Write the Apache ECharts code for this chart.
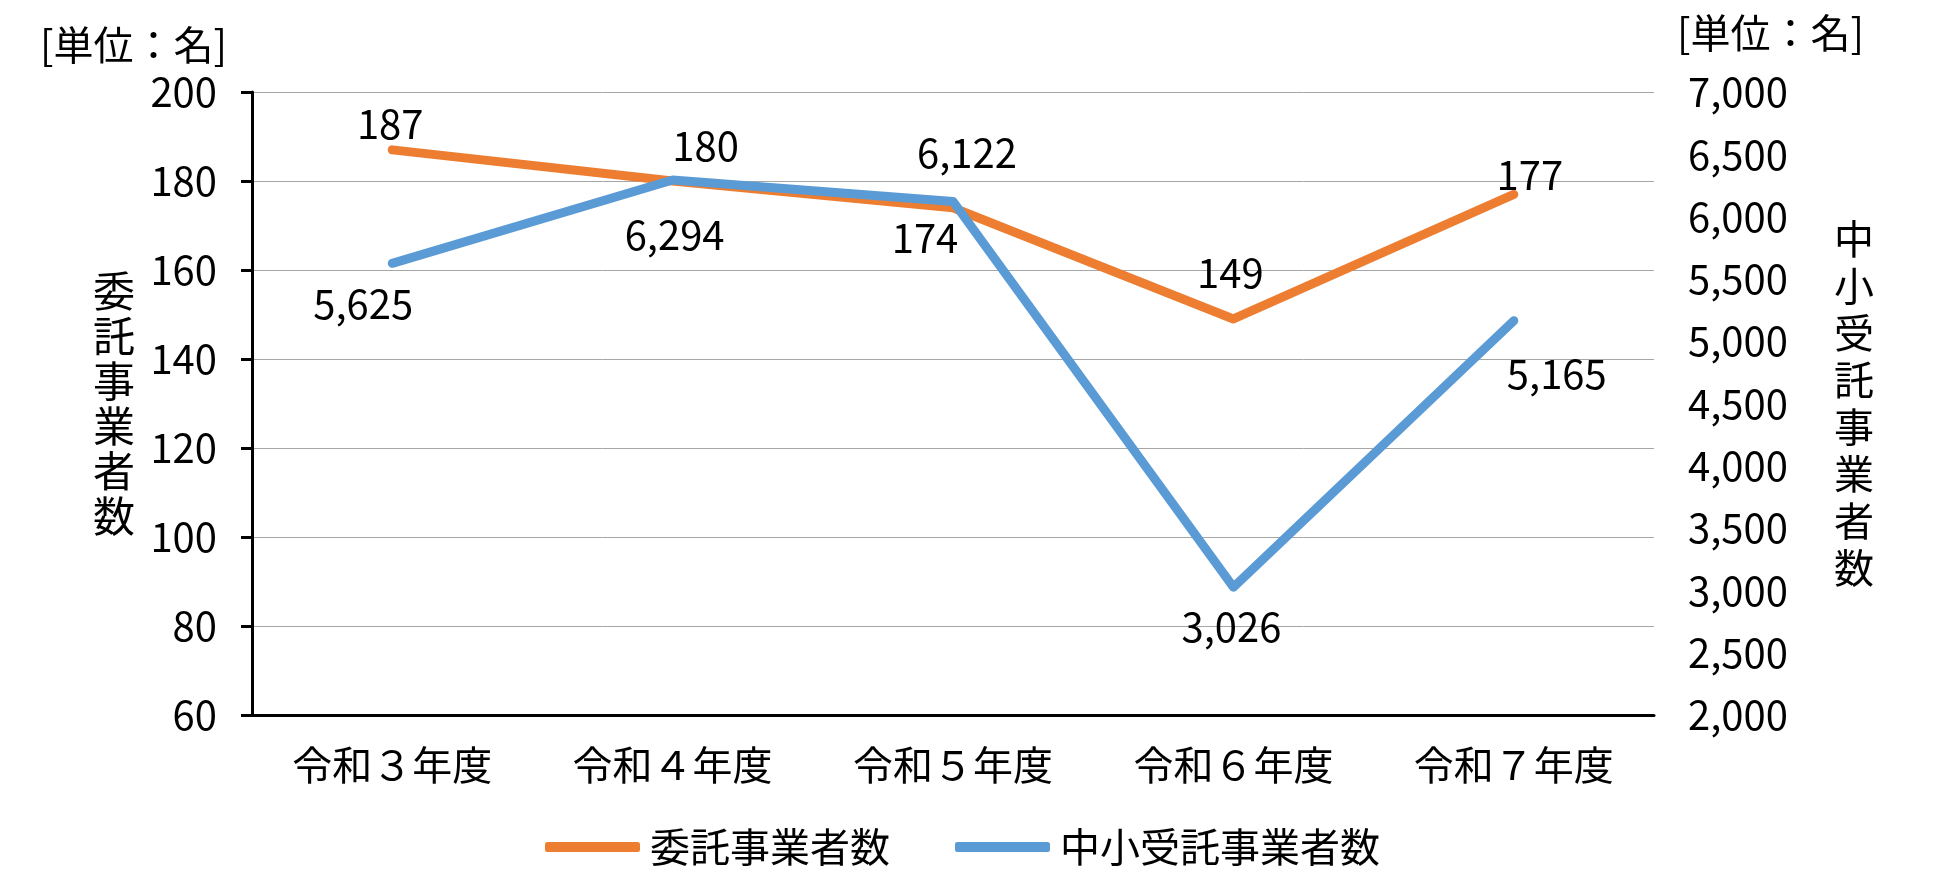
<!DOCTYPE html>
<html>
<head>
<meta charset="utf-8">
<script src="https://cdn.jsdelivr.net/npm/echarts@6/dist/echarts.min.js"></script>
<style>
html,body{margin:0;padding:0;background:#fff;}
#chart{width:1950px;height:883px;}
</style>
</head>
<body>
<div id="chart"></div>
<script>
// data
var years=["令和３年度","令和４年度","令和５年度","令和６年度","令和７年度"];
var itakuName="委託事業者数";
var chushoName="中小受託事業者数";
var itaku=[187,180,174,149,177];
var chusho=[5625,6294,6122,3026,5165];
var unitText="[単位：名]";

// label offsets from each point (px)
var itakuOffset=[[-2,-26],[33,-35],[-28,30],[-3,-46],[16,-20]];
var chushoOffset=[[-29,40],[2,55],[14,-49],[-2,40],[43,53]];

var numFont="'Liberation Sans Narrow','Noto Sans CJK JP',sans-serif";
var cjkFont="'Noto Sans CJK JP',sans-serif";
var orange="#ED7D31";
var blue="#5B9BD5";

function fmt(v){
	return String(v).replace(/\B(?=(\d{3})+(?!\d))/g,",");
}
function vertical(s){
	return s.split("").join("\n");
}
function buildData(values,offsets){
	var arr=[];
	for(var i=0;i<values.length;i++){
		arr.push({
			value:values[i],
			label:{offset:offsets[i]}
		});
	}
	return arr;
}

var chart=echarts.init(document.getElementById("chart"));
var option={
	animation:false,
	title:[{
		text:unitText,left:35,top:20,
		textStyle:{fontFamily:cjkFont,fontSize:40,fontWeight:"normal",color:"#000"}
	},{
		text:unitText,left:1672,top:8,
		textStyle:{fontFamily:cjkFont,fontSize:40,fontWeight:"normal",color:"#000"}
	}],
	legend:{
		left:540,
		top:822,
		itemWidth:95,
		itemHeight:10,
		itemGap:65,
		icon:"roundRect",
		textStyle:{fontFamily:cjkFont,fontSize:40,color:"#000",padding:[0,0,0,5]},
		data:[itakuName,chushoName]
	},
	grid:{left:252,right:296,top:92,bottom:168},
	xAxis:{
		type:"category",
		data:years,
		axisLine:{lineStyle:{color:"#000",width:3}},
		axisTick:{alignWithLabel:true,length:9,lineStyle:{color:"#000",width:3}},
		axisLabel:{margin:30,color:"#000",fontFamily:cjkFont,fontSize:40}
	},
	yAxis:[{
		type:"value",
		min:60,max:200,interval:20,
		name:vertical(itakuName),
		nameLocation:"middle",
		nameRotate:0,
		nameGap:117,
		nameTextStyle:{fontFamily:cjkFont,fontSize:42,lineHeight:45,color:"#000"},
		axisLine:{show:true,lineStyle:{color:"#000",width:3}},
		axisTick:{show:true,length:11,lineStyle:{color:"#000",width:3}},
		axisLabel:{margin:35,color:"#000",fontFamily:numFont,fontSize:40},
		splitLine:{lineStyle:{color:"#a6a6a6",width:1}}
	},{
		type:"value",
		min:2000,max:7000,interval:500,
		name:vertical(chushoName),
		nameLocation:"middle",
		nameRotate:0,
		nameGap:180,
		nameTextStyle:{fontFamily:cjkFont,fontSize:40,lineHeight:47,color:"#000"},
		axisLine:{show:false},
		axisTick:{show:false},
		axisLabel:{margin:34,color:"#000",fontFamily:numFont,fontSize:40,formatter:function(v){return fmt(v);}},
		splitLine:{show:false}
	}],
	series:[{
		name:itakuName,
		type:"line",
		yAxisIndex:0,
		data:buildData(itaku,itakuOffset),
		symbol:"circle",
		symbolSize:1,
		itemStyle:{color:orange},
		lineStyle:{color:orange,width:9,cap:"round",join:"round"},
		label:{show:true,position:"inside",color:"#000",fontFamily:numFont,fontSize:40},
		z:2
	},{
		name:chushoName,
		type:"line",
		yAxisIndex:1,
		data:buildData(chusho,chushoOffset),
		symbol:"circle",
		symbolSize:1,
		itemStyle:{color:blue},
		lineStyle:{color:blue,width:9,cap:"round",join:"round"},
		label:{show:true,position:"inside",color:"#000",fontFamily:numFont,fontSize:40,
			formatter:function(p){return fmt(p.value);}},
		z:3
	}]
};
chart.setOption(option);
</script>
</body>
</html>
